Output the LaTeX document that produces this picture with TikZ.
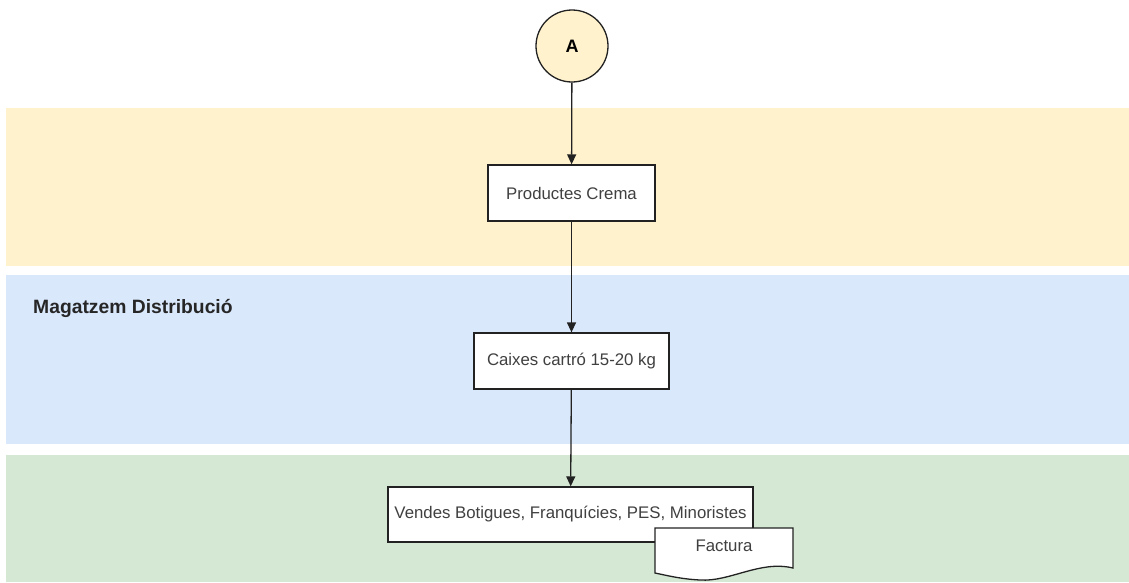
\documentclass[tikz,border=0pt]{standalone}
\usepackage{fontspec}
\setmainfont{Liberation Sans}
\usetikzlibrary{arrows.meta}
\definecolor{bandYellow}{HTML}{FFF2CC}
\definecolor{bandBlue}{HTML}{DAE8FC}
\definecolor{bandGreen}{HTML}{D5E8D4}
\definecolor{inkDark}{HTML}{222222}
\tikzset{
  band/.style={draw=none},
  stepbox/.style={draw=inkDark, line width=1.3pt, fill=white, rectangle, inner sep=0pt,
    font=\fontsize{16.8}{20}\selectfont, text=black!75},
  flow/.style={draw=inkDark, line width=1.3pt, -{Triangle[length=10pt,width=9pt]}},
}
\begin{document}
\begin{tikzpicture}[x=1pt,y=-1pt]
\useasboundingbox (0,0) rectangle (1129,582);
% swimlane bands
\fill[bandYellow] (6,108) rectangle (1129,266);
\fill[bandBlue] (6,275) rectangle (1129,444);
\fill[bandGreen] (6,455) rectangle (1129,582);
\node[anchor=base west, inner sep=0pt, font=\bfseries\fontsize{19.3}{22}\selectfont, text=black!85] (lane) at (33,313) {Magatzem Distribució};
% connector
\node[circle, draw=inkDark, line width=1.3pt, fill=bandYellow, minimum size=72pt, inner sep=0pt,
  font=\bfseries\fontsize{18}{20}\selectfont] (A) at (572,46) {A};
% process steps
\node[stepbox, minimum width=167pt, minimum height=56pt] (crema) at (571.5,193) {Productes Crema};
\node[stepbox, minimum width=195pt, minimum height=56pt] (caixes) at (571.5,361) {Caixes cartró 15-20 kg};
\node[stepbox, minimum width=365pt, minimum height=55pt] (vendes) at (570.5,514.5) {Vendes Botigues, Franquícies, PES, Minoristes};
% document shape
\coordinate (docTL) at (655,528);
\coordinate (docTR) at (793,528);
\coordinate (docBR) at (793,568);
\coordinate (docBL) at (655,573);
\filldraw[fill=white, draw=inkDark, line width=1.3pt]
  (docTL) -- (docTR) -- (docBR) .. controls (760,560) and (730,582) .. (700,580)
  .. controls (680,579) and (665,575) .. (docBL) -- cycle;
\node[font=\fontsize{16.8}{20}\selectfont, text=black!75] (factura) at (724,546) {Factura};
% flow
\draw[flow] (A) -- (crema);
\draw[flow] (crema) -- (caixes);
\draw[flow] (caixes) -- (vendes);
\end{tikzpicture}
\end{document}
